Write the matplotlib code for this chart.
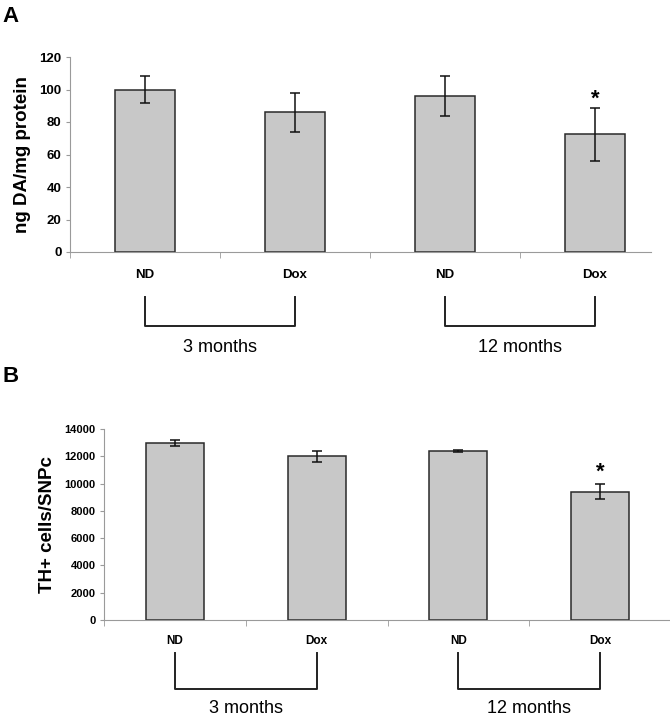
import matplotlib
matplotlib.use("Agg")
from matplotlib import pyplot as plt
from matplotlib.ticker import FixedLocator
import numpy as np

plt.rcParams['font.family'] = ['Liberation Sans', 'DejaVu Sans']

groups = ['ND', 'Dox', 'ND', 'Dox']
ages = ['3 months', '12 months']

# panel A: dopamine content
da_mean = [100, 86, 96, 72.6]
da_err = [8.5, 12, 12.5, 16.3]
da_ticks = [0, 20, 40, 60, 80, 100, 120]

# panel B: TH+ cell counts
th_mean = [13000, 12000, 12400, 9400]
th_err = [230, 400, 80, 550]
th_ticks = [0, 2000, 4000, 6000, 8000, 10000, 12000, 14000]

star_idx = 3

bar_col = '#c8c8c8'
edge_col = '#2a2a2a'
axis_col = '#9a9a9a'


def panel(ax, mean, err, ticks, ylabel, ytick_size, xtick_size, bw,
          star_off, br_top, br_bot, txt_y, xpad, xend):
    x = np.arange(len(mean))
    ax.bar(x, mean, width=bw, color=bar_col, edgecolor=edge_col, linewidth=1.1, zorder=2)
    ax.errorbar(x, mean, yerr=err, fmt='none', ecolor='#111111', elinewidth=1.1,
                capsize=3.5, capthick=1.1, zorder=3)
    ax.set_xlim(-0.5, 3.5)
    ax.set_ylim(0, ticks[-1])
    ax.set_yticks(ticks)
    ax.set_yticklabels([str(t) for t in ticks], fontsize=ytick_size, fontweight='bold')
    ax.set_xticks(x)
    ax.set_xticklabels(groups, fontsize=xtick_size, fontweight='bold')
    ax.xaxis.set_minor_locator(FixedLocator([-0.5, 0.5, 1.5, 2.5]))
    ax.tick_params(axis='x', which='major', length=0, pad=xpad)
    ax.tick_params(axis='x', which='minor', length=4, color=axis_col, direction='out')
    ax.tick_params(axis='y', length=3, color=axis_col, pad=3)
    for s in ['top', 'right']:
        ax.spines[s].set_visible(False)
    ax.spines['left'].set_color(axis_col)
    ax.spines['bottom'].set_color(axis_col)
    ax.spines['bottom'].set_bounds(-0.5, xend)
    ax.set_ylabel(ylabel, fontsize=13.5, fontweight='bold', labelpad=6)

    ax.annotate('*', xy=(x[star_idx], mean[star_idx] + err[star_idx]),
                xytext=(0, star_off), textcoords='offset points',
                ha='center', va='center', fontsize=16, fontweight='bold')

    tr = ax.get_xaxis_transform()
    for i, lab in enumerate(ages):
        x0, x1 = x[2 * i], x[2 * i + 1]
        ax.plot([x0, x0, x1, x1], [br_top, br_bot, br_bot, br_top], color='#222222',
                lw=1.4, transform=tr, clip_on=False)
        ax.text((x0 + x1) / 2, txt_y, lab, transform=tr, ha='center', va='center',
                fontsize=13)


fig = plt.figure(figsize=(6.7, 7.2), dpi=100)

axA = fig.add_axes([70 / 670, 468 / 720, 600 / 670, 195 / 720])
panel(axA, da_mean, da_err, da_ticks, 'ng DA/mg protein', 9.5, 9.5, 0.4,
      6, -0.231, -0.377, -0.49, 12, 3.37)

axB = fig.add_axes([104 / 670, 100 / 720, 567 / 670, 191 / 720])
panel(axB, th_mean, th_err, th_ticks, 'TH+ cells/SNPc', 8, 8.5, 0.41,
      9, -0.173, -0.361, -0.463, 11, 3.5)

fig.text(2 / 670, 1 - 22 / 720, 'A', fontsize=16, fontweight='bold', ha='left', va='baseline')
fig.text(3 / 670, 1 - 382 / 720, 'B', fontsize=16, fontweight='bold', ha='left', va='baseline')

fig.savefig('out.png', dpi=100)
